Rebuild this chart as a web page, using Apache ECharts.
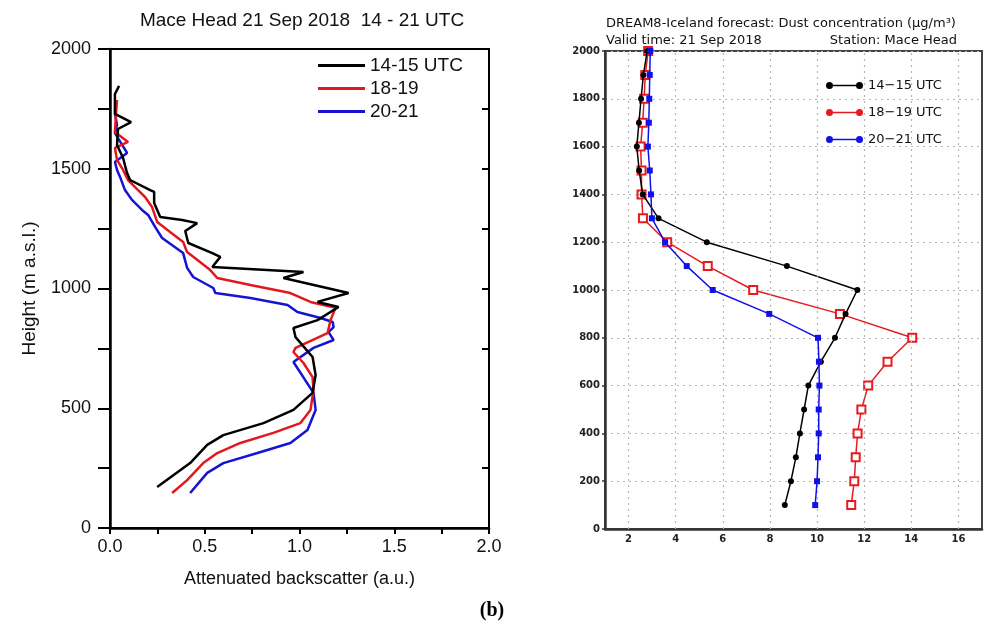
<!DOCTYPE html>
<html>
<head>
<meta charset="utf-8">
<script src="https://cdn.jsdelivr.net/npm/echarts@6/dist/echarts.min.js"></script>
<style>
  html, body { margin: 0; padding: 0; background: #fff; }
  #chart { width: 984px; height: 635px; }
</style>
</head>
<body>
<div id="chart"></div>
<script>
// ---- Lidar profiles: [attenuated backscatter (a.u.), height (m a.s.l.)] ----
const lidar1415 = [
  [0.048, 1846], [0.026, 1812], [0.026, 1729], [0.111, 1695], [0.042, 1666],
  [0.037, 1599], [0.069, 1545], [0.090, 1482], [0.106, 1453], [0.212, 1411],
  [0.233, 1403], [0.233, 1357], [0.265, 1299], [0.381, 1286], [0.460, 1273],
  [0.397, 1240], [0.413, 1190], [0.540, 1148], [0.582, 1132], [0.540, 1090],
  [1.021, 1069], [0.915, 1044], [1.259, 981], [1.095, 944], [1.206, 923],
  [1.095, 868], [0.968, 835], [0.979, 797], [1.069, 714], [1.085, 639],
  [1.069, 564], [0.968, 493], [0.810, 438], [0.598, 388], [0.513, 347],
  [0.423, 271], [0.249, 171]
];
const lidar1819 = [
  [0.037, 1787], [0.032, 1733], [0.026, 1653], [0.095, 1612], [0.026, 1587],
  [0.037, 1537], [0.069, 1495], [0.095, 1453], [0.148, 1411], [0.185, 1382],
  [0.222, 1340], [0.249, 1278], [0.317, 1236], [0.386, 1194], [0.407, 1152],
  [0.529, 1077], [0.566, 1044], [0.741, 1015], [0.952, 981], [1.058, 944],
  [1.190, 919], [1.164, 868], [1.148, 814], [0.979, 752], [0.968, 735],
  [1.021, 689], [1.069, 630], [1.074, 576], [1.058, 493], [1.005, 438],
  [0.862, 397], [0.688, 355], [0.566, 313], [0.492, 271], [0.407, 200],
  [0.328, 146]
];
const lidar2021 = [
  [0.026, 1733], [0.037, 1683], [0.026, 1649], [0.090, 1566], [0.026, 1528],
  [0.037, 1495], [0.053, 1466], [0.079, 1411], [0.116, 1370], [0.169, 1328],
  [0.201, 1307], [0.238, 1257], [0.275, 1211], [0.386, 1148], [0.407, 1086],
  [0.439, 1048], [0.545, 1002], [0.556, 981], [0.741, 960], [0.937, 931],
  [0.989, 902], [1.111, 877], [1.175, 860], [1.180, 839], [1.153, 818],
  [1.180, 785], [1.074, 752], [0.968, 693], [1.074, 564], [1.085, 493],
  [1.042, 409], [0.952, 355], [0.778, 313], [0.598, 271], [0.513, 230],
  [0.423, 146]
];
const lidarNames = ['14-15 UTC', '18-19', '20-21'];

// ---- DREAM8-Iceland forecast dust concentration (µg/m³) at model heights ----
const modelHeights = [100, 200, 300, 400, 500, 600, 700, 800, 900, 1000,
                      1100, 1200, 1300, 1400, 1500, 1600, 1700, 1800, 1900, 2000];
const dust1415 = [8.63, 8.89, 9.10, 9.27, 9.45, 9.63, 10.16, 10.76, 11.21, 11.71,
                  8.72, 5.32, 3.27, 2.60, 2.45, 2.35, 2.44, 2.53, 2.63, 2.79];
const dust1819 = [11.45, 11.58, 11.64, 11.72, 11.88, 12.17, 12.99, 14.04, 10.97, 7.29,
                  5.36, 3.64, 2.61, 2.55, 2.55, 2.51, 2.60, 2.66, 2.71, 2.83];
const dust2021 = [9.92, 10.00, 10.04, 10.07, 10.07, 10.10, 10.08, 10.04, 7.97, 5.57,
                  4.47, 3.55, 2.99, 2.95, 2.90, 2.82, 2.86, 2.88, 2.90, 2.92];
const dustNames = ['14\u221215 UTC', '18\u221219 UTC', '20\u221221 UTC'];
const dustGridX = [2, 4, 6, 8, 10, 12, 14, 16];

const pair = (vals) => vals.map((v, i) => [v, modelHeights[i]]);

const LEFT_FONT = '"Liberation Sans", Arial, sans-serif';
const RIGHT_FONT = '"DejaVu Sans", sans-serif';
const lidarColors = ['#000000', '#e3171d', '#1414d2'];
const dustColors = ['#000000', '#e81a1f', '#1010e8'];
// legend glyph: short line with a dot at each end
const dotPairIcon = 'path://M0,3.5a3.5,3.5 0 1,1 7,0a3.5,3.5 0 1,1 -7,0zM7,2.8h23v1.4h-23zM30,3.5a3.5,3.5 0 1,1 7,0a3.5,3.5 0 1,1 -7,0z';

const chart = echarts.init(document.getElementById('chart'), null, { renderer: 'canvas' });
const plain = (v) => String(v);

chart.setOption({
  animation: false,
  backgroundColor: '#fff',
  title: [
    { text: 'Mace Head 21 Sep 2018  14 - 21 UTC', left: 302, top: 11, textAlign: 'center', padding: 0,
      textStyle: { fontFamily: LEFT_FONT, fontSize: 19, fontWeight: 'normal', color: '#111' } },
    { text: 'DREAM8-Iceland forecast: Dust concentration (\u03bcg/m\u00b3)', left: 606, top: 17, padding: 0,
      textStyle: { fontFamily: RIGHT_FONT, fontSize: 13, fontWeight: 'normal', color: '#111' } },
    { text: 'Valid time: 21 Sep 2018', left: 606, top: 34, padding: 0,
      textStyle: { fontFamily: RIGHT_FONT, fontSize: 13, fontWeight: 'normal', color: '#111' } },
    { text: 'Station: Mace Head', left: 957, top: 34, textAlign: 'right', padding: 0,
      textStyle: { fontFamily: RIGHT_FONT, fontSize: 13, fontWeight: 'normal', color: '#111' } },
    { text: '(b)', left: 492, top: 601, textAlign: 'center', padding: 0,
      textStyle: { fontFamily: '"Liberation Serif", "DejaVu Serif", serif', fontSize: 20, fontWeight: 'bold', color: '#000' } }
  ],
  legend: [
    { data: lidarNames, orient: 'vertical', left: 318, top: 56, padding: 0,
      icon: 'rect', itemWidth: 47, itemHeight: 3, itemGap: 4,
      textStyle: { fontFamily: LEFT_FONT, fontSize: 19, color: '#111', lineHeight: 19 } },
    { data: dustNames.map((n, i) => ({ name: n, icon: dotPairIcon,
        itemStyle: { color: dustColors[i], borderWidth: 0 } })),
      orient: 'vertical', left: 826, top: 79, padding: 0,
      itemWidth: 37, itemHeight: 7, itemGap: 14,
      textStyle: { fontFamily: RIGHT_FONT, fontSize: 13, color: '#111' } }
  ],
  grid: [
    { left: 110, top: 49, width: 379, height: 479, show: true,
      borderColor: '#000', borderWidth: 2, backgroundColor: 'transparent' },
    { left: 605, top: 51, width: 377, height: 478, show: true,
      borderColor: '#444', borderWidth: 2, backgroundColor: 'transparent' }
  ],
  xAxis: [
    { type: 'value', gridIndex: 0, min: 0, max: 2, interval: 0.5,
      name: 'Attenuated backscatter (a.u.)', nameLocation: 'middle', nameGap: 42,
      nameTextStyle: { fontFamily: LEFT_FONT, fontSize: 18, color: '#111' },
      axisLine: { lineStyle: { color: '#000', width: 2.5 } },
      axisTick: { length: 6, lineStyle: { color: '#000', width: 2 } },
      minorTick: { show: true, splitNumber: 2, length: 6, lineStyle: { color: '#000', width: 2 } },
      splitLine: { show: false },
      axisLabel: { fontFamily: LEFT_FONT, fontSize: 18, color: '#111', margin: 10,
        formatter: (v) => v.toFixed(1) } },
    { type: 'value', gridIndex: 1, min: 1, max: 17,
      axisLine: { lineStyle: { color: '#333', width: 2.5 } },
      axisTick: { show: false },
      splitLine: { show: false },
      axisLabel: { customValues: dustGridX, fontFamily: RIGHT_FONT, fontSize: 10, fontWeight: 'bold',
        color: '#222', margin: 5, formatter: plain } }
  ],
  yAxis: [
    { type: 'value', gridIndex: 0, min: 0, max: 2000, interval: 500,
      name: 'Height (m a.s.l.)', nameLocation: 'middle', nameGap: 71, nameRotate: 90,
      nameTextStyle: { fontFamily: LEFT_FONT, fontSize: 19, color: '#111' },
      axisLine: { lineStyle: { color: '#000', width: 2.5 } },
      axisTick: { length: 12, lineStyle: { color: '#000', width: 2 } },
      minorTick: { show: true, splitNumber: 2, length: 12, lineStyle: { color: '#000', width: 2 } },
      splitLine: { show: false },
      axisLabel: { fontFamily: LEFT_FONT, fontSize: 18, color: '#111', margin: 19, formatter: plain } },
    { type: 'value', gridIndex: 0, position: 'right', min: 0, max: 2000, interval: 500,
      axisLine: { show: true, lineStyle: { color: '#000', width: 2 } },
      axisTick: { inside: true, length: 7, lineStyle: { color: '#000', width: 2 } },
      minorTick: { show: true, splitNumber: 2, length: 7, lineStyle: { color: '#000', width: 2 } },
      splitLine: { show: false },
      axisLabel: { show: false } },
    { type: 'value', gridIndex: 1, min: 0, max: 2000, interval: 200,
      axisLine: { lineStyle: { color: '#333', width: 2.5 } },
      axisTick: { length: 3, lineStyle: { color: '#333', width: 1.5 } },
      splitLine: { show: true, lineStyle: { type: [2, 4], color: '#b5b5b5', width: 1.2 } },
      axisLabel: { fontFamily: RIGHT_FONT, fontSize: 10, fontWeight: 'bold', color: '#222', margin: 5,
        formatter: plain } }
  ],
  series: [
    ...[lidar1415, lidar1819, lidar2021].map((d, i) => ({
      name: lidarNames[i], type: 'line', xAxisIndex: 0, yAxisIndex: 0,
      data: d, symbol: 'none', smooth: false, z: 5 - i,
      lineStyle: { color: lidarColors[i], width: 2.5 }, itemStyle: { color: lidarColors[i] }
    })),
    {
      name: 'dust-grid', type: 'line', xAxisIndex: 1, yAxisIndex: 2, data: [], silent: true, z: 1,
      markLine: { silent: true, symbol: 'none', label: { show: false },
        lineStyle: { type: [2, 4], color: '#b5b5b5', width: 1.2 },
        data: dustGridX.map((v) => ({ xAxis: v })) }
    },
    {
      name: dustNames[0], type: 'line', xAxisIndex: 1, yAxisIndex: 2, data: pair(dust1415),
      symbol: 'circle', symbolSize: 6, z: 4,
      lineStyle: { color: dustColors[0], width: 1.5 }, itemStyle: { color: dustColors[0] }
    },
    {
      name: dustNames[1], type: 'line', xAxisIndex: 1, yAxisIndex: 2, data: pair(dust1819),
      symbol: 'emptyRect', symbolSize: 8, z: 3,
      lineStyle: { color: dustColors[1], width: 1.5 },
      itemStyle: { color: dustColors[1], borderWidth: 1.6 }
    },
    {
      name: dustNames[2], type: 'line', xAxisIndex: 1, yAxisIndex: 2, data: pair(dust2021),
      symbol: 'rect', symbolSize: 6, z: 5,
      lineStyle: { color: dustColors[2], width: 1.5 }, itemStyle: { color: dustColors[2] }
    }
  ]
});
</script>
</body>
</html>
